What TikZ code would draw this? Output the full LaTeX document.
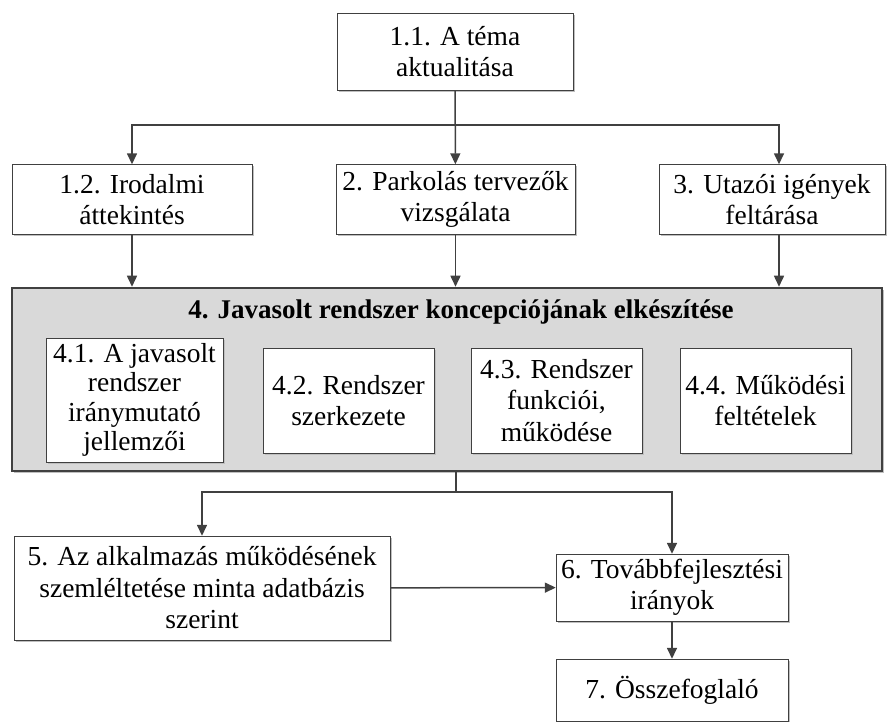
\documentclass[tikz,border=0pt]{standalone}
\usepackage{fontspec}
\setmainfont{Liberation Serif}
\usepackage{tikz}
\usetikzlibrary{arrows.meta}
\usetikzlibrary{shadows}
\definecolor{linegray}{HTML}{404040}
\definecolor{boxgray}{HTML}{D9D9D9}

\tikzset{
  box/.style={draw=linegray, fill=white, align=center, inner sep=0pt,
    drop shadow={shadow xshift=2pt, shadow yshift=-2pt, fill=black!25, opacity=1}},
  arr/.style={draw=linegray, line width=1.5pt, -{Triangle[length=11pt,width=10pt]}},
  conn/.style={draw=linegray, line width=1.5pt},
}

\begin{document}
\begin{tikzpicture}[x=1pt,y=-1pt,font=\fontsize{27.5}{31.5}\selectfont]
    \useasboundingbox (0,0) rectangle (887,722);
    % top level
    \node[box, minimum width=236, minimum height=77] (n11) at (455, 51.5) {1.1. A téma\\aktualitása};
    \node[box, minimum width=240, minimum height=70] (n12) at (132, 199.5) {1.2. Irodalmi\\áttekintés};
    \node[box, minimum width=239, minimum height=70] (n2) at (455.5, 199.5) {2. Parkolás tervezők\\vizsgálata};
    \node[box, minimum width=226, minimum height=70] (n3) at (772, 199.5) {3. Utazói igények\\feltárása};
    %
    % concept block
    \node[draw=linegray, fill=boxgray, line width=2.5pt, inner sep=0pt,
      minimum width=870, minimum height=183,
      drop shadow={shadow xshift=2pt, shadow yshift=-2pt, fill=black!25, opacity=1}] (n4) at (447, 379.5) {};
    \node[font=\fontsize{27}{31.5}\selectfont\bfseries] (n4title) at (461, 312) {4. Javasolt rendszer koncepciójának elkészítése};
    \node[box, minimum width=177, minimum height=124, font=\fontsize{27.5}{29.5}\selectfont] (n41) at (134.5, 400) {4.1. A javasolt\\rendszer\\iránymutató\\jellemzői};
    \node[box, minimum width=171, minimum height=105] (n42) at (348.5, 400.5) {4.2. Rendszer\\szerkezete};
    \node[box, minimum width=171, minimum height=105] (n43) at (556.5, 400.5) {4.3. Rendszer\\funkciói,\\működése};
    \node[box, minimum width=171, minimum height=105] (n44) at (765.5, 400.5) {4.4. Működési\\feltételek};
    %
    % bottom level
    \node[box, minimum width=376, minimum height=104] (n5) at (202, 588) {5. Az alkalmazás működésének\\szemléltetése minta adatbázis\\szerint};
    \node[box, minimum width=232, minimum height=67] (n6) at (672, 587.5) {6. Továbbfejlesztési\\irányok};
    \node[box, minimum width=232, minimum height=62] (n7) at (672, 690) {7. Összefoglaló};
    %
    % Edges:
    \coordinate (split1) at (455, 125);
    \coordinate (split2) at (456, 492);
  \draw[arr] (n11) -- (n2);
  \draw[arr] (split1) -| (n12);
  \draw[arr] (split1) -| ([xshift=7]n3.north);
  \draw[arr] (n12) -- (n12 |- n4.north);
  \draw[arr] (n2) -- (n2 |- n4.north);
  \draw[arr] ([xshift=7]n3.south) -- ([xshift=7]n3.south |- n4.north);
  \draw[conn] (n4.south -| split2) -- (split2);
  \draw[arr] (split2) -| (n5);
  \draw[arr] (split2) -| (n6);
  \draw[arr] (n5) -- (n6);
  \draw[arr] (n6) -- (n7);
    \end{tikzpicture}
\end{document}
